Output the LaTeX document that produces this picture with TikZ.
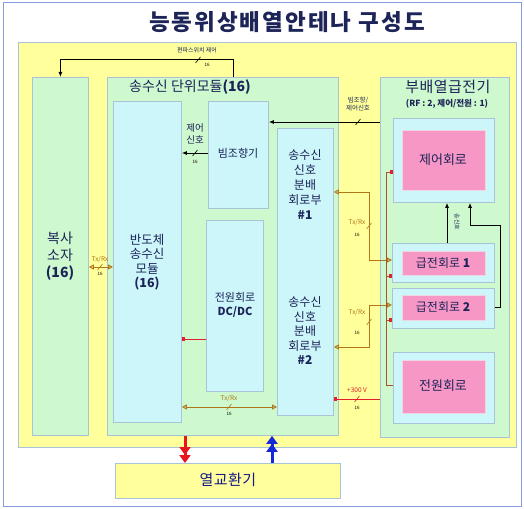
\documentclass[tikz,border=0pt]{standalone}
\usepackage{fontspec}
\setmainfont{Noto Sans CJK KR}
\usetikzlibrary{arrows.meta,calc}
\definecolor{ylw}{HTML}{FFFF9C}
\definecolor{grn}{HTML}{CEF8CE}
\definecolor{lblue}{HTML}{CCF6FA}
\definecolor{pnk}{HTML}{F797C6}
\definecolor{edgec}{HTML}{A9C4D6}
\definecolor{navy}{HTML}{1C2458}
\definecolor{txr}{HTML}{B0771A}
\definecolor{pwr}{HTML}{A85030}
\definecolor{pred}{HTML}{E0202A}
\definecolor{hot}{HTML}{E8141E}
\definecolor{cold}{HTML}{1428D8}
\newcommand\setfs[2]{\fontsize{#1}{#2}\selectfont}
\tikzset{
  box/.style={draw=edgec, line width=0.8pt, anchor=north west, inner sep=0pt},
  gbox/.style={box, fill=grn},
  bbox/.style={box, fill=lblue},
  pbox/.style={box, fill=pnk, draw=pnk!80!black!30},
  lbl/.style={text=navy, align=center, inner sep=0pt},
  tiny/.style={inner sep=0pt, font=\setfs{4.5}{5}},
  blk/.style={line width=1pt, draw=black},
  txl/.style={line width=1pt, draw=txr, {Triangle[open,length=5pt,width=5pt]}-{Triangle[open,length=5pt,width=5pt]}},
  pwl/.style={line width=1pt, draw=pwr},
  sq/.style={-{Square[length=3.5pt,width=3.5pt,color=pred]}},
  busslash/.pic={\draw[line width=0.6pt] (-2.5,3) -- (2.5,-3);},
  bigarrow/.style={line width=3pt, -{Triangle[length=8pt,width=11pt] Triangle[length=8pt,width=11pt]}}
}
\begin{document}
\begin{tikzpicture}[x=1pt,y=-1pt]
\useasboundingbox (0,0) rectangle (524,508);
\fill[white] (0,0) rectangle (524,508);
\draw[draw=edgec!80!blue, line width=1pt] (3,3) rectangle (521,506);
\node[lbl, font=\setfs{22.5}{24}\bfseries\addfontfeature{LetterSpace=9}] (title) at (287,22) {능동위상배열안테나 구성도};
% backgrounds
\node[box, fill=ylw, minimum width=498pt, minimum height=405pt] (ybg) at (18,42) {};
\node[gbox, minimum width=56pt, minimum height=358pt] (bs) at (32,77) {};
\node[gbox, minimum width=231pt, minimum height=358pt] (um) at (107,77) {};
\node[gbox, minimum width=129pt, minimum height=360pt] (sub) at (380,77) {};
\node[bbox, minimum width=68pt, minimum height=321pt] (bsm) at (113,101) {};
\node[bbox, minimum width=60pt, minimum height=107pt] (bjh) at (208,101) {};
\node[bbox, minimum width=57pt, minimum height=171pt] (dc) at (206,220) {};
\node[bbox, minimum width=56pt, minimum height=287pt] (dist) at (277,128) {};
\node[bbox, minimum width=101pt, minimum height=84pt] (ctl) at (393,118) {};
\node[pbox, minimum width=83pt, minimum height=60pt] (ctlp) at (402,130) {};
\node[bbox, minimum width=102pt, minimum height=39pt] (fd1) at (392,243) {};
\node[pbox, minimum width=83pt, minimum height=24pt] (fd1p) at (402,251) {};
\node[bbox, minimum width=102pt, minimum height=40pt] (fd2) at (392,288) {};
\node[pbox, minimum width=83pt, minimum height=25pt] (fd2p) at (402,295) {};
\node[bbox, minimum width=101pt, minimum height=71pt] (pw) at (393,352) {};
\node[pbox, minimum width=83pt, minimum height=53pt] (pwp) at (402,360) {};
\node[box, fill=ylw, minimum width=225pt, minimum height=35pt] (hx) at (115,463) {};
% texts
\node[lbl, font=\setfs{14}{16}] (umt) at (190,87) {송수신 단위모듈\textbf{(16)}};
\node[lbl, font=\setfs{15}{17}\addfontfeature{LetterSpace=3}] (subt) at (448,87) {부배열급전기};
\node[lbl, font=\setfs{8.5}{10}\bfseries] (subt2) at (447,104) {(RF : 2, 제어/전원 : 1)};
\node[lbl, font=\setfs{14}{17}] (bst) at (60,256) {복사\\소자\\\textbf{(16)}};
\node[lbl, font=\setfs{12.5}{14.5}] (bsmt) at (147,262) {반도체\\송수신\\모듈\\\textbf{(16)}};
\node[lbl, font=\setfs{11}{13}] (bjht) at (238,153) {빔조향기};
\node[lbl, font=\setfs{11}{14}] (dct) at (235,305) {전원회로\\\textbf{DC/DC}};
\node[lbl, font=\setfs{12}{15}] (d1t) at (305,185) {송수신\\신호\\분배\\회로부\\\textbf{\#1}};
\node[lbl, font=\setfs{12}{14.5}] (d2t) at (305,331) {송수신\\신호\\분배\\회로부\\\textbf{\#2}};
\node[lbl, font=\setfs{13}{15}] (ctlt) at (443,160) {제어회로};
\node[lbl, font=\setfs{12}{14}] (fd1t) at (443,263) {급전회로 \textbf{1}};
\node[lbl, font=\setfs{12}{14}] (fd2t) at (443,307) {급전회로 \textbf{2}};
\node[lbl, font=\setfs{13}{15}] (pwt) at (443,386) {전원회로};
\node[lbl, text=navy!70!blue, font=\setfs{15}{17}\addfontfeature{LetterSpace=3}] (hxt) at (228,480) {열교환기};
% helper coordinates
\coordinate (c0) at (233,0);
\coordinate (busx) at (369,0);
\coordinate (pbus) at (386,0);
\coordinate (c1) at (447,0);
\coordinate (c2) at (470,0);
\coordinate (c3) at (500,0);
\coordinate (ra) at (185,0);
\coordinate (ba) at (272,0);
% top polarization switch control
\draw[blk, -{Latex[length=5pt,width=4pt]}] (um.north -| c0) |- ($(bs.north)+(0,-17)$) -- (bs.north);
\node[lbl, font=\setfs{6}{7}] (pst) at (197,50) {편파스위치 제어};
\path (198,60) pic{busslash};
\node[tiny] (ps16) at (207,65) {16};
% beam steering / control signal
\draw[blk, -{Latex[length=5pt,width=4pt]}] (sub.west |- 0,122) -- (bjh.east |- 0,122);
\node[lbl, font=\setfs{6.5}{8}] (bst2) at (358,104) {빔조향/\\제어신호};
\path (358,122) pic{busslash};
% control signal
\draw[blk, -{Latex[length=5pt,width=4pt]}] (bjh.west |- 0,153) -- (bsm.east |- 0,153);
\node[lbl, font=\setfs{9.5}{12}] (cst) at (195,134) {제어\\신호};
\path (195,153) pic{busslash};
\node[tiny] (cs16) at (195,162) {16};
% Tx/Rx radiator
\draw[txl] (bs.east |- 0,267) -- (bsm.west |- 0,267);
\node[inner sep=0pt, text=txr, font=\setfs{6.5}{7}] (tr1) at (100,259) {Tx/Rx};
\path[draw=txr] (100,267) pic{busslash};
\node[tiny] (tr116) at (100,274) {16};
% DC/DC power
\draw[pwl, draw=pred, sq] (dc.west |- 0,339) -- (bsm.east |- 0,339);
% bottom Tx/Rx
\draw[txl] (bsm.east |- 0,407) -- (dist.west |- 0,407);
\node[inner sep=0pt, text=txr, font=\setfs{6.5}{7}] (tr2) at (229,398) {Tx/Rx};
\path[draw=txr] (229,407) pic{busslash};
\node[tiny] (tr216) at (229,414) {16};
% Tx/Rx #1
\draw[txl] (dist.east |- 0,192) -- (busx |- 0,192) |- (fd1.west |- 0,260);
\node[inner sep=0pt, text=txr, font=\setfs{6.5}{7}] (tr3) at (357,222) {Tx/Rx};
\path[draw=txr] (369,226) pic{busslash};
\node[tiny] (tr316) at (357,235) {16};
% Tx/Rx #2
\draw[txl] (fd2.west |- 0,305) -- (busx |- 0,305) |- (dist.east |- 0,347);
\node[inner sep=0pt, text=txr, font=\setfs{6.5}{7}] (tr4) at (357,312) {Tx/Rx};
\path[draw=txr] (369,322) pic{busslash};
\node[tiny] (tr416) at (357,333) {16};
% power bus
\draw[pwl, sq] (pw.west |- 0,385) -- (pbus |- 0,385) -- (pbus |- 0,172) -- (ctl.west |- 0,172);
\draw[pwl, sq] (pbus |- 0,276) -- (fd1.west |- 0,276);
\draw[pwl, sq] (pbus |- 0,320) -- (fd2.west |- 0,320);
% +300 V
\draw[pwl, draw=pred, sq] (sub.west |- 0,399) -- (dist.east |- 0,399);
\node[inner sep=0pt, text=pred, font=\setfs{6.5}{7}] (v300) at (357,390) {+300 V};
\path[draw=pred] (357,399) pic{busslash};
\node[tiny] (v30016) at (357,408) {16};
% control lines inside sub-array feeder
\draw[blk, -{Latex[length=5pt,width=4pt]}] (fd1.north -| c1) -- (ctl.south -| c1);
\node[inner sep=0pt, rotate=-90, text=navy, font=\setfs{6}{7}] (stt) at (457,222) {송신호};
\draw[blk, -{Latex[length=5pt,width=4pt]}] (fd2.east |- 0,307) -- (c3 |- 0,307) |- (c2 |- 0,225) -- (ctl.south -| c2);
% heat exchanger arrows
\draw[bigarrow, draw=hot, fill=hot] (um.south -| ra) -- (hx.north -| ra);
\draw[bigarrow, draw=cold, fill=cold] (hx.north -| ba) -- (um.south -| ba);
\end{tikzpicture}
\end{document}
